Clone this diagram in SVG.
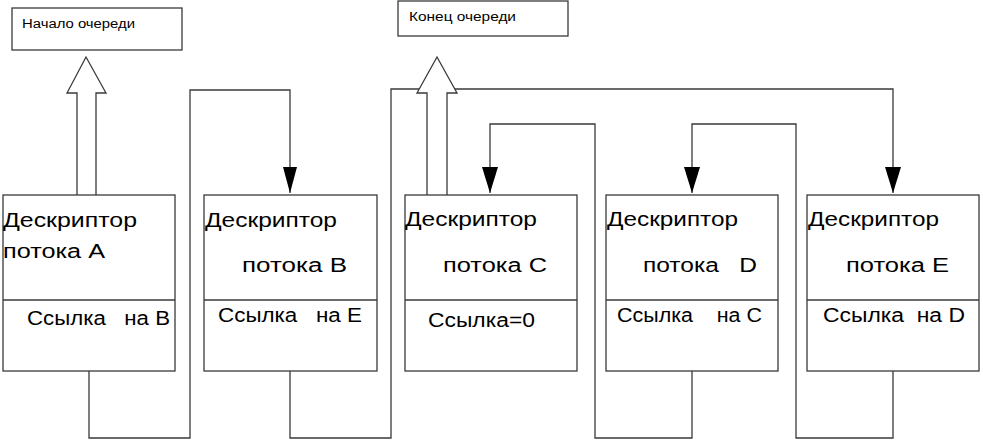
<svg xmlns="http://www.w3.org/2000/svg" width="983" height="441" viewBox="0 0 983 441">
<style>
.box{fill:#fff;stroke:#3a3a3a;stroke-width:1.3}
.ln{fill:none;stroke:#3a3a3a;stroke-width:1.3}
.big{font-family:"Liberation Sans",Arial,sans-serif;font-size:20px;fill:#000}
.sm{font-family:"Liberation Sans",Arial,sans-serif;font-size:12.5px;fill:#000}
.hol{fill:#fff;stroke:#3a3a3a;stroke-width:1.3}
</style>
<defs>
<marker id="ah" markerWidth="16" markerHeight="26" refX="8" refY="26" orient="auto-start-reverse" markerUnits="userSpaceOnUse" viewBox="0 0 16 26">
<path d="M0,0 L16,0 L8,26 Z" fill="#000"/>
</marker>
</defs>
<rect width="983" height="441" fill="#fff"/>

<g id="connectors">
<path class="ln" d="M89,371 V438 H190 V90 H290 V193"/>
<path d="M283,167 H297 L290,193 Z" fill="#000"/>
<path class="ln" d="M290,371 V438 H391 V89 H893 V193"/>
<path d="M885,167 H901 L893,193 Z" fill="#000"/>
<path class="ln" d="M692,371 V438 H595 V124 H490 V193"/>
<path d="M482,167 H498 L490,193 Z" fill="#000"/>
<path class="ln" d="M893,371 V438 H796 V124 H692 V193"/>
<path d="M684,167 H700 L692,193 Z" fill="#000"/>
</g>

<g id="queue-head">
<rect class="box" x="12" y="8" width="170" height="42"/>
<text class="sm" x="22" y="28" textLength="113" lengthAdjust="spacingAndGlyphs">Начало очереди</text>
</g>
<g id="queue-tail">
<rect class="box" x="398" y="1" width="170" height="35"/>
<text class="sm" x="409" y="21" textLength="107" lengthAdjust="spacingAndGlyphs">Конец очереди</text>
</g>

<g id="arrow-head-A">
<path class="hol" d="M77,195 V93 H67 L86,57 L106,93 H96 V195"/>
</g>
<g id="arrow-tail-C">
<path class="hol" d="M427,195 V93 H417 L437,57 L457,93 H447 V195"/>
</g>

<g id="nodeA">
<rect class="box" x="3" y="195" width="172" height="176"/>
<line class="ln" x1="3" y1="300" x2="175" y2="300"/>
<text class="big" x="3" y="227" textLength="134" lengthAdjust="spacingAndGlyphs">Дескриптор</text>
<text class="big" x="3" y="258" textLength="102" lengthAdjust="spacingAndGlyphs">потока A</text>
<text class="big" x="27" y="325" textLength="143" lengthAdjust="spacingAndGlyphs" xml:space="preserve">Ссылка   на B</text>
</g>
<g id="nodeB">
<rect class="box" x="204" y="195" width="173" height="176"/>
<line class="ln" x1="204" y1="300" x2="377" y2="300"/>
<text class="big" x="205" y="227" textLength="132" lengthAdjust="spacingAndGlyphs">Дескриптор</text>
<text class="big" x="242" y="272" textLength="105" lengthAdjust="spacingAndGlyphs">потока B</text>
<text class="big" x="218" y="322" textLength="144" lengthAdjust="spacingAndGlyphs" xml:space="preserve">Ссылка   на E</text>
</g>
<g id="nodeC">
<rect class="box" x="405" y="195" width="172" height="176"/>
<line class="ln" x1="405" y1="300" x2="577" y2="300"/>
<text class="big" x="405" y="226" textLength="132" lengthAdjust="spacingAndGlyphs">Дескриптор</text>
<text class="big" x="443" y="272" textLength="104" lengthAdjust="spacingAndGlyphs">потока C</text>
<text class="big" x="428" y="327" textLength="107" lengthAdjust="spacingAndGlyphs">Ссылка=0</text>
</g>
<g id="nodeD">
<rect class="box" x="606" y="195" width="172" height="176"/>
<line class="ln" x1="606" y1="300" x2="778" y2="300"/>
<text class="big" x="607" y="226" textLength="131" lengthAdjust="spacingAndGlyphs">Дескриптор</text>
<text class="big" x="643" y="272" textLength="114" lengthAdjust="spacingAndGlyphs" xml:space="preserve">потока   D</text>
<text class="big" x="617" y="322" textLength="145" lengthAdjust="spacingAndGlyphs" xml:space="preserve">Ссылка    на C</text>
</g>
<g id="nodeE">
<rect class="box" x="807" y="195" width="172" height="176"/>
<line class="ln" x1="807" y1="300" x2="979" y2="300"/>
<text class="big" x="808" y="226" textLength="131" lengthAdjust="spacingAndGlyphs">Дескриптор</text>
<text class="big" x="846" y="272" textLength="103" lengthAdjust="spacingAndGlyphs">потока E</text>
<text class="big" x="823" y="322" textLength="142" lengthAdjust="spacingAndGlyphs" xml:space="preserve">Ссылка  на D</text>
</g>
</svg>
